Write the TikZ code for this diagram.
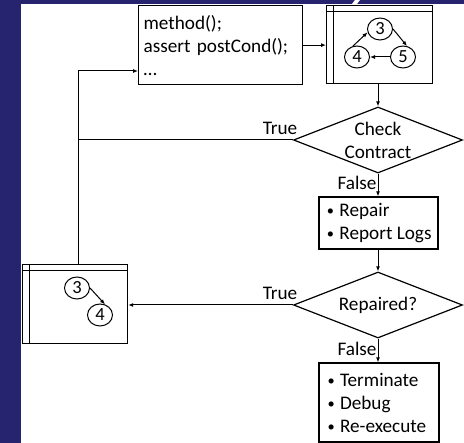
\documentclass[tikz,border=0pt]{standalone}
\usepackage{fontspec}
\usepackage{graphicx}
\setmainfont{Carlito}
\usetikzlibrary{shapes.geometric,arrows.meta}
\definecolor{navy}{RGB}{38,36,110}
\newcommand{\mybul}{\makebox[14pt][l]{\hspace{1.5pt}\raisebox{1pt}{\scalebox{0.75}{\textbullet}}}}
\begin{document}
\begin{tikzpicture}[x=1pt,y=-1pt,
  box/.style={draw, line width=1.2pt, inner sep=0},
  arr/.style={-{Latex[length=5pt,width=4pt]}, line width=1pt},
  txt/.style={font=\fontsize{19.2}{23}\selectfont},
  dia/.style={draw, diamond, line width=1.2pt, minimum width=169, minimum height=66, inner sep=0},
  num/.style={draw, ellipse, line width=1pt, minimum width=25, minimum height=22, inner sep=0, font=\fontsize{18.5}{20}\selectfont},
  bl/.style={txt, align=left}]
\useasboundingbox (0,0) rectangle (464,443);
\fill[navy] (0,0) rectangle (464,443);
\fill[white] (21,4) rectangle (464,443);
\fill[white] (352,4) -- (355,0) -- (360,0) -- (357,4) -- cycle;
% method box
\node[box, minimum width=164, minimum height=79, anchor=north west, text width=154, align=left, txt] (m) at (138,5) {method();\\assert postCond();\\\ldots};
% top window
\node[box, minimum width=106, minimum height=78, anchor=north west] (w) at (326,5) {};
\draw[line width=1pt] ([xshift=7]w.north west) -- ([xshift=7]w.south west);
\draw[line width=1pt] ([yshift=-7]w.north west) -- ([yshift=-7]w.north east);
\node[num] (a3) at (380,29) {3};
\node[num] (a4) at (357,57) {4};
\node[num] (a5) at (403,57) {5};
\draw[arr] (a4.110) -- (a3.195);
\draw[arr] (a3.east) -- (a5.70);
\draw[arr] (a5.west) -- (a4.east);
% check contract
\node[dia] (cc) at (378,140) {};
\node[txt, align=center] (cct) at (cc) {Check\\Contract};
\node[txt] (t1) at (280,128) {True};
\node[txt] (f1) at (357,183) {False};
% repair box
\node[box, minimum width=119, minimum height=52, bl] (rp) at (378.5,223) {\mybul Repair\\\mybul Report Logs};
% repaired diamond
\node[dia] (rd) at (378,305) {};
\node[txt] (rdt) at (rd) {Repaired?};
\node[txt] (t2) at (280,293) {True};
\node[txt] (f2) at (357,349) {False};
% final box
\node[box, minimum width=120, minimum height=79, bl, text width=106] (tm) at (379,402.5) {\mybul Terminate\\\mybul Debug\\\mybul Re-execute};
% left window
\node[box, minimum width=105, minimum height=79, anchor=north west] (lw) at (22,264) {};
\draw[line width=1pt] ([xshift=7]lw.north west) -- ([xshift=7]lw.south west);
\draw[line width=1pt] ([yshift=-7]lw.north west) -- ([yshift=-7]lw.north east);
\node[num] (b3) at (77,288) {3};
\node[num] (b4) at (100,315) {4};
\draw[arr] (b3.east) -- (b4.65);
% connectors
\coordinate (jt) at (78,71);
\draw[arr] (m.east) -- (m.east -| w.west);
\draw[arr] (cc.north |- w.south) -- (cc.north);
\draw[arr] (cc.south) -- (rp.north -| cc.south);
\draw[arr] (rp.south -| rd.north) -- (rd.north);
\draw[arr] (rd.south) -- (tm.north -| rd.south);
\draw[arr] (rd.west) -- (rd.west -| lw.east);
\draw[arr] (lw.north -| jt) -- (jt) -- (jt -| m.west);
\draw[line width=1pt] (cc.west) -- (cc.west -| jt);
\end{tikzpicture}
\end{document}
